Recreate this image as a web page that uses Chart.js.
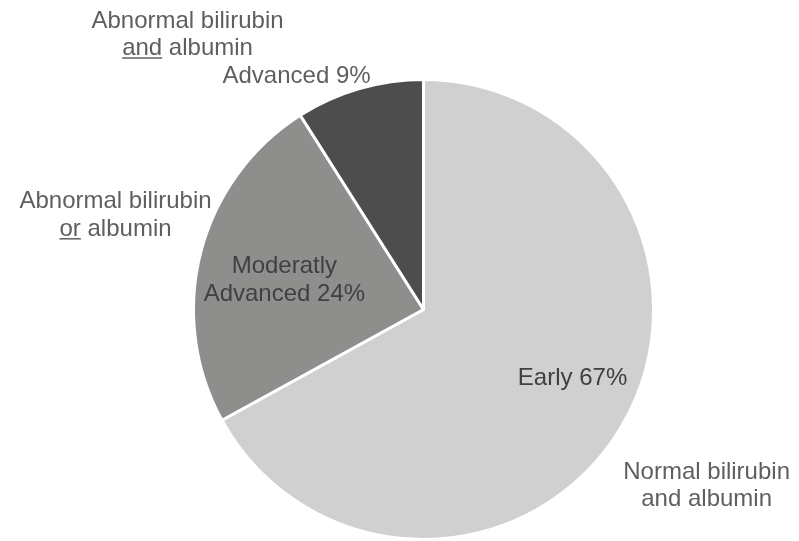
<!DOCTYPE html>
<html>
<head>
<meta charset="utf-8">
<script src="https://cdn.jsdelivr.net/npm/chart.js@4.4.0/dist/chart.umd.min.js"></script>
<style>
  html, body { margin: 0; padding: 0; background: #ffffff; }
  #wrap { width: 799px; height: 541px; position: relative; }
</style>
</head>
<body>
<div id="wrap"><canvas id="c" width="799" height="541"></canvas></div>
<script>
// ---- data ----
const categories = ['Early', 'Moderatly Advanced', 'Advanced'];
const shares = [67, 24, 9];
const sliceColors = ['#d0d0d0', '#8e8f8c', '#4d4d4d'];
const innerLabels = [['Early 67%'], ['Moderatly', 'Advanced 24%'], ['Advanced 9%']];
const outerLabels = [
  ['Normal bilirubin', 'and albumin'],
  ['Abnormal bilirubin', 'or albumin'],
  ['Abnormal bilirubin', 'and albumin']
];
const underlinedWords = ['', 'or', 'and'];

// label placement relative to pie centre (units of radius)
const innerPos = [[0.648, 0.330], [-0.605, -0.157], [-0.552, -0.983]];
const innerColor = ['#404040', '#404040', '#5f5f5f'];
const outerPos = [[1.231, 0.735], [-1.339, -0.440], [-1.026, -1.226]];
const FONT = '24px "Liberation Sans", Arial, sans-serif';
const LINE = 27.5;

const labelPlugin = {
  id: 'labels',
  afterDraw(chart) {
    const ctx = chart.ctx;
    const arcs = chart.getDatasetMeta(0).data;
    ctx.save();
    ctx.font = FONT;
    ctx.textAlign = 'center';
    ctx.textBaseline = 'alphabetic';
    arcs.forEach((arc, i) => {
      const cx = arc.x, cy = arc.y, R = arc.outerRadius;
      // inner labels
      const lines = innerLabels[i];
      ctx.fillStyle = innerColor[i];
      const bx = cx + innerPos[i][0] * R;
      const by = cy + innerPos[i][1] * R;
      lines.forEach((t, k) => ctx.fillText(t, bx, by + k * LINE));
      // outer labels
      const ol = outerLabels[i];
      const ox = cx + outerPos[i][0] * R;
      const oy = cy + outerPos[i][1] * R;
      ctx.fillStyle = '#5f5f5f';
      ctx.strokeStyle = '#5f5f5f';
      ol.forEach((t, k) => {
        const y = oy + k * LINE;
        ctx.fillText(t, ox, y);
        const w = underlinedWords[i];
        if (k === 1 && w && t.startsWith(w)) {
          const full = ctx.measureText(t).width;
          const ww = ctx.measureText(w).width;
          const x0 = ox - full / 2;
          ctx.lineWidth = 1.5;
          ctx.beginPath();
          ctx.moveTo(x0, y + 3);
          ctx.lineTo(x0 + ww, y + 3);
          ctx.stroke();
        }
      });
    });
    ctx.restore();
  }
};

new Chart(document.getElementById('c'), {
  type: 'pie',
  data: {
    labels: categories,
    datasets: [{
      data: shares,
      backgroundColor: sliceColors,
      borderColor: '#ffffff',
      borderWidth: 3
    }]
  },
  options: {
    responsive: false,
    animation: false,
    layout: { padding: { left: 192, top: 78, right: 144, bottom: 0 } },
    plugins: {
      legend: { display: false },
      tooltip: { enabled: false }
    }
  },
  plugins: [labelPlugin]
});
</script>
</body>
</html>
